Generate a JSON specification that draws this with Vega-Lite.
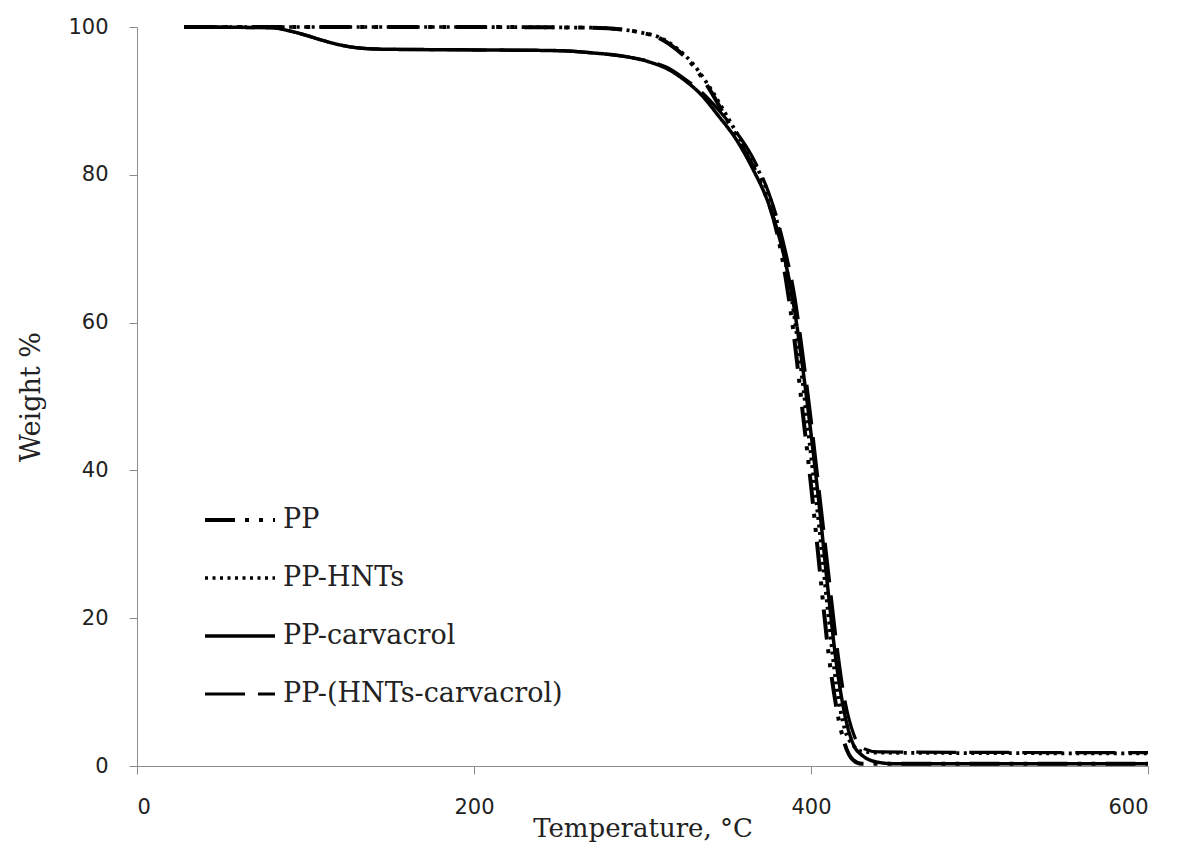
{
  "$schema": "https://vega.github.io/schema/vega-lite/v6.json",
  "autosize": "none",
  "width": 1011,
  "height": 739,
  "padding": {"left": 137, "top": 27, "right": 30, "bottom": 82},
  "background": "white",
  "config": {
    "view": {"stroke": null},
    "axis": {"grid": false, "domainColor": "#8c8c8c", "tickColor": "#8c8c8c", "labelColor": "#222", "titleColor": "#222", "labelFont": "DejaVu Sans", "labelFontSize": 21, "titleFont": "DejaVu Serif", "titleFontSize": 26, "titleFontWeight": "normal", "tickSize": 8}
  },
  "data": {"values": [
    {"s":"PP","t":28,"w":100},{"s":"PP","t":100,"w":100},{"s":"PP","t":200,"w":100},{"s":"PP","t":270,"w":99.9},{"s":"PP","t":290,"w":99.6},{"s":"PP","t":300,"w":99.2},{"s":"PP","t":310,"w":98.5},{"s":"PP","t":320,"w":97},{"s":"PP","t":330,"w":94.8},{"s":"PP","t":340,"w":91.5},{"s":"PP","t":350,"w":87.5},{"s":"PP","t":360,"w":83.5},{"s":"PP","t":370,"w":79},{"s":"PP","t":380,"w":72},{"s":"PP","t":385,"w":66},{"s":"PP","t":390,"w":58},{"s":"PP","t":395,"w":48},{"s":"PP","t":400,"w":38},{"s":"PP","t":405,"w":27},{"s":"PP","t":410,"w":16},{"s":"PP","t":415,"w":8},{"s":"PP","t":420,"w":3},{"s":"PP","t":425,"w":0.8},{"s":"PP","t":430,"w":0.3},{"s":"PP","t":600,"w":0.3},
    {"s":"PP-HNTs","t":28,"w":100},{"s":"PP-HNTs","t":100,"w":100},{"s":"PP-HNTs","t":200,"w":100},{"s":"PP-HNTs","t":270,"w":99.9},{"s":"PP-HNTs","t":290,"w":99.6},{"s":"PP-HNTs","t":300,"w":99.2},{"s":"PP-HNTs","t":310,"w":98.6},{"s":"PP-HNTs","t":320,"w":97.2},{"s":"PP-HNTs","t":330,"w":95},{"s":"PP-HNTs","t":340,"w":91.8},{"s":"PP-HNTs","t":350,"w":88},{"s":"PP-HNTs","t":360,"w":84},{"s":"PP-HNTs","t":370,"w":80},{"s":"PP-HNTs","t":380,"w":73.5},{"s":"PP-HNTs","t":385,"w":68},{"s":"PP-HNTs","t":390,"w":61},{"s":"PP-HNTs","t":395,"w":52},{"s":"PP-HNTs","t":400,"w":42},{"s":"PP-HNTs","t":405,"w":32},{"s":"PP-HNTs","t":410,"w":21},{"s":"PP-HNTs","t":415,"w":11},{"s":"PP-HNTs","t":420,"w":5},{"s":"PP-HNTs","t":425,"w":2.8},{"s":"PP-HNTs","t":430,"w":2},{"s":"PP-HNTs","t":440,"w":1.8},{"s":"PP-HNTs","t":600,"w":1.7},
    {"s":"PP-carvacrol","t":28,"w":100},{"s":"PP-carvacrol","t":80,"w":99.9},{"s":"PP-carvacrol","t":90,"w":99.5},{"s":"PP-carvacrol","t":100,"w":98.9},{"s":"PP-carvacrol","t":110,"w":98.2},{"s":"PP-carvacrol","t":120,"w":97.6},{"s":"PP-carvacrol","t":130,"w":97.2},{"s":"PP-carvacrol","t":145,"w":97},{"s":"PP-carvacrol","t":200,"w":96.9},{"s":"PP-carvacrol","t":250,"w":96.8},{"s":"PP-carvacrol","t":270,"w":96.5},{"s":"PP-carvacrol","t":290,"w":96},{"s":"PP-carvacrol","t":305,"w":95.2},{"s":"PP-carvacrol","t":315,"w":94.3},{"s":"PP-carvacrol","t":325,"w":92.8},{"s":"PP-carvacrol","t":335,"w":90.8},{"s":"PP-carvacrol","t":345,"w":88},{"s":"PP-carvacrol","t":355,"w":85},{"s":"PP-carvacrol","t":365,"w":81},{"s":"PP-carvacrol","t":375,"w":76},{"s":"PP-carvacrol","t":380,"w":72.5},{"s":"PP-carvacrol","t":385,"w":68},{"s":"PP-carvacrol","t":390,"w":62},{"s":"PP-carvacrol","t":395,"w":54},{"s":"PP-carvacrol","t":400,"w":45},{"s":"PP-carvacrol","t":405,"w":35},{"s":"PP-carvacrol","t":410,"w":24},{"s":"PP-carvacrol","t":415,"w":14},{"s":"PP-carvacrol","t":420,"w":7},{"s":"PP-carvacrol","t":425,"w":3},{"s":"PP-carvacrol","t":430,"w":1.5},{"s":"PP-carvacrol","t":440,"w":0.5},{"s":"PP-carvacrol","t":450,"w":0.3},{"s":"PP-carvacrol","t":600,"w":0.3},
    {"s":"PP-(HNTs-carvacrol)","t":28,"w":100},{"s":"PP-(HNTs-carvacrol)","t":80,"w":99.9},{"s":"PP-(HNTs-carvacrol)","t":90,"w":99.5},{"s":"PP-(HNTs-carvacrol)","t":100,"w":98.9},{"s":"PP-(HNTs-carvacrol)","t":110,"w":98.2},{"s":"PP-(HNTs-carvacrol)","t":120,"w":97.6},{"s":"PP-(HNTs-carvacrol)","t":130,"w":97.2},{"s":"PP-(HNTs-carvacrol)","t":145,"w":97},{"s":"PP-(HNTs-carvacrol)","t":200,"w":96.9},{"s":"PP-(HNTs-carvacrol)","t":250,"w":96.8},{"s":"PP-(HNTs-carvacrol)","t":270,"w":96.5},{"s":"PP-(HNTs-carvacrol)","t":290,"w":96},{"s":"PP-(HNTs-carvacrol)","t":305,"w":95.3},{"s":"PP-(HNTs-carvacrol)","t":315,"w":94.5},{"s":"PP-(HNTs-carvacrol)","t":325,"w":93},{"s":"PP-(HNTs-carvacrol)","t":335,"w":91.2},{"s":"PP-(HNTs-carvacrol)","t":345,"w":88.8},{"s":"PP-(HNTs-carvacrol)","t":355,"w":86},{"s":"PP-(HNTs-carvacrol)","t":365,"w":82.5},{"s":"PP-(HNTs-carvacrol)","t":375,"w":77.5},{"s":"PP-(HNTs-carvacrol)","t":380,"w":74},{"s":"PP-(HNTs-carvacrol)","t":385,"w":69.5},{"s":"PP-(HNTs-carvacrol)","t":390,"w":64},{"s":"PP-(HNTs-carvacrol)","t":395,"w":56},{"s":"PP-(HNTs-carvacrol)","t":400,"w":47},{"s":"PP-(HNTs-carvacrol)","t":405,"w":37},{"s":"PP-(HNTs-carvacrol)","t":410,"w":27},{"s":"PP-(HNTs-carvacrol)","t":415,"w":17},{"s":"PP-(HNTs-carvacrol)","t":420,"w":9},{"s":"PP-(HNTs-carvacrol)","t":425,"w":4.5},{"s":"PP-(HNTs-carvacrol)","t":430,"w":2.5},{"s":"PP-(HNTs-carvacrol)","t":440,"w":1.9},{"s":"PP-(HNTs-carvacrol)","t":600,"w":1.8}
  ]},
  "mark": {"type": "line", "interpolate": "monotone", "color": "black"},
  "encoding": {
    "x": {"field": "t", "type": "quantitative", "scale": {"domain": [0, 600], "nice": false}, "axis": {"values": [0, 200, 400, 600], "title": "Temperature, °C", "labelPadding": 22, "titlePadding": -2}},
    "y": {"field": "w", "type": "quantitative", "scale": {"domain": [0, 100], "nice": false}, "axis": {"values": [0, 20, 40, 60, 80, 100], "title": "Weight %", "labelPadding": 21, "titlePadding": 22, "titleFontSize": 27}},
    "strokeDash": {"field": "s", "type": "nominal", "sort": ["PP", "PP-HNTs", "PP-carvacrol", "PP-(HNTs-carvacrol)"],
      "scale": {"domain": ["PP", "PP-HNTs", "PP-carvacrol", "PP-(HNTs-carvacrol)"], "range": [[30, 10, 4, 10, 4, 10], [3, 4.5], [1, 0], [40, 13]]},
      "legend": {"title": null, "orient": "none", "legendX": 66, "legendY": 456, "symbolType": "stroke", "symbolSize": 4900, "symbolStrokeColor": "black", "labelFont": "DejaVu Serif", "labelFontSize": 27, "labelColor": "#222", "labelLimit": 0, "rowPadding": 8, "labelOffset": 6, "symbolStrokeWidth": 4.5}},
    "strokeWidth": {"field": "s", "type": "nominal", "scale": {"domain": ["PP", "PP-HNTs", "PP-carvacrol", "PP-(HNTs-carvacrol)"], "range": [4, 3.2, 4.5, 6]}, "legend": null}
  }
}
